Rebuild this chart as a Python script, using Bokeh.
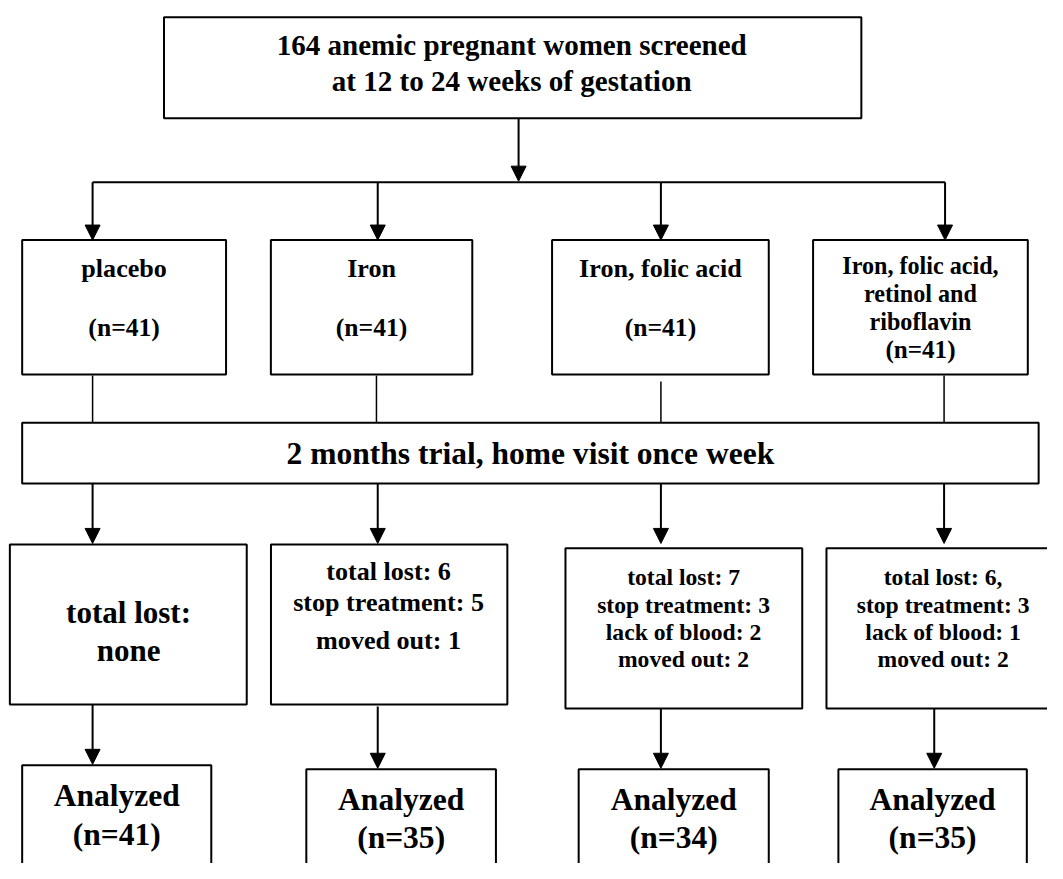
from bokeh.plotting import figure
from bokeh.models import Range1d, Arrow, NormalHead
from bokeh.core.properties import value
from bokeh.embed import file_html
from bokeh.resources import INLINE

# ---------------- data ----------------
screened = 164
gestation_weeks = (12, 24)
arm_lines = [["placebo"],
             ["Iron"],
             ["Iron, folic acid"],
             ["Iron, folic acid,", "retinol and", "riboflavin"]]
n_randomized = [41, 41, 41, 41]
trial_label = "2 months trial, home visit once week"
total_lost = [0, 6, 7, 6]
stop_treatment = [None, 5, 3, 3]
lack_of_blood = [None, None, 2, 1]
moved_out = [None, 1, 2, 2]
n_analyzed = [41, 35, 34, 35]

# ---------------- layout (reference pixels) ----------------
FONT = value("Liberation Serif")
REF_W, REF_H = 1063, 879
W, H = 1047, 863
S = W / REF_W

p = figure(width=W, height=H, output_backend="svg", toolbar_location=None,
           x_range=Range1d(0, REF_W), y_range=Range1d(REF_H, 0),
           min_border=0, outline_line_color=None)
p.axis.visible = False
p.grid.visible = False
p.background_fill_color = "white"


def fs(px):
    return f"{px * S:.2f}px"


def box(l, r, t, b, lw=2):
    p.quad(left=[l], right=[r], top=[t], bottom=[b], fill_color="white",
           line_color="black", line_width=lw)


def txt(x, y, s, size):
    p.text(x=[x], y=[y], text=[s], text_font=FONT, text_font_style="bold",
           text_font_size=fs(size), text_align="center", text_baseline="middle",
           text_color="black")


def arrow(x, y0, y1):
    p.add_layout(Arrow(end=NormalHead(size=15, fill_color="black", line_color="black", line_width=1),
                       x_start=x, y_start=y0, x_end=x, y_end=y1,
                       line_width=2, line_color="black"))


def line(xs, ys, lw=2):
    p.line(x=xs, y=ys, line_color="black", line_width=lw)


# top box
box(166, 874, 17, 120)
txt(519, 45, f"{screened} anemic pregnant women screened", 29.5)
txt(519, 82, f"at {gestation_weeks[0]} to {gestation_weeks[1]} weeks of gestation", 29.5)
arrow(526, 120, 184)

col_x = [93.5, 383, 670.5, 959]
line([col_x[0], col_x[-1]], [185, 185])
for x in col_x:
    arrow(x, 185, 244)

# row 2 : arms
row2 = [(22, 229), (274.5, 479), (560, 780), (825, 1043)]
for i, (l, r) in enumerate(row2):
    box(l, r, 244, 381)
    cx = (l + r) / 2
    lines = arm_lines[i]
    if len(lines) == 1:
        txt(cx, 272.5, lines[0], 26.5)
        txt(cx, 333, f"(n={n_randomized[i]})", 26)
    else:
        ys = [270, 298.3, 326.5]
        for s, y in zip(lines, ys):
            txt(cx, y, s, 24.5)
        txt(cx, 355.5, f"(n={n_randomized[i]})", 25.5)

starts = [382, 382, 388, 382]
for x, s in zip([93.5, 381.7, 670.5, 958], starts):
    line([x, x], [s, 430], 1.5)

# trial box
box(22, 1054, 430, 492)
txt(538, 461.5, trial_label, 32)

row3_cols = [93.5, 383, 670.5, 958]
for x in row3_cols:
    arrow(x, 492, 553)

# row 3 : losses
row3 = [(9.5, 250, 554, 717), (274.6, 514.6, 554, 717),
        (573.6, 814, 558, 721), (838.6, 1075, 558, 721)]
for (l, r, t, b) in row3:
    box(l, r, t, b)

# placebo
txt(130, 623, "total lost:", 31.5)
txt(130, 662, "none" if total_lost[0] == 0 else str(total_lost[0]), 31.5)
# iron
txt(394, 582, f"total lost: {total_lost[1]}", 26.5)
txt(394, 613, f"stop treatment: {stop_treatment[1]}", 26.5)
txt(394, 652, f"moved out: {moved_out[1]}", 26.5)
# iron + folic
txt(693.5, 587, f"total lost: {total_lost[2]}", 24)
txt(693.5, 616, f"stop treatment: {stop_treatment[2]}", 24)
txt(693.5, 643, f"lack of blood: {lack_of_blood[2]}", 24)
txt(693.5, 670.5, f"moved out: {moved_out[2]}", 24)
# iron + folic + retinol + riboflavin
txt(957, 587, f"total lost: {total_lost[3]},", 24)
txt(957, 616, f"stop treatment: {stop_treatment[3]}", 24)
txt(957, 643, f"lack of blood: {lack_of_blood[3]}", 24)
txt(957, 670.5, f"moved out: {moved_out[3]}", 24)

# arrows to analyzed
a_x = [93.5, 383, 670.5, 948]
a_y0 = [717, 719, 721, 721]
a_y1 = [778, 782, 782, 782]
for x, y0, y1 in zip(a_x, a_y0, a_y1):
    arrow(x, y0, y1)

# analyzed boxes
row4 = [(22, 214, 779), (310.5, 503, 783), (587, 780, 783), (850.7, 1042, 783)]
for i, (l, r, t) in enumerate(row4):
    box(l, r, t, 930)
    cx = (l + r) / 2
    txt(cx, t + 31, "Analyzed", 32)
    txt(cx, t + 70, f"(n={n_analyzed[i]})", 32)

open("out.html", "w").write(file_html(p, INLINE))
